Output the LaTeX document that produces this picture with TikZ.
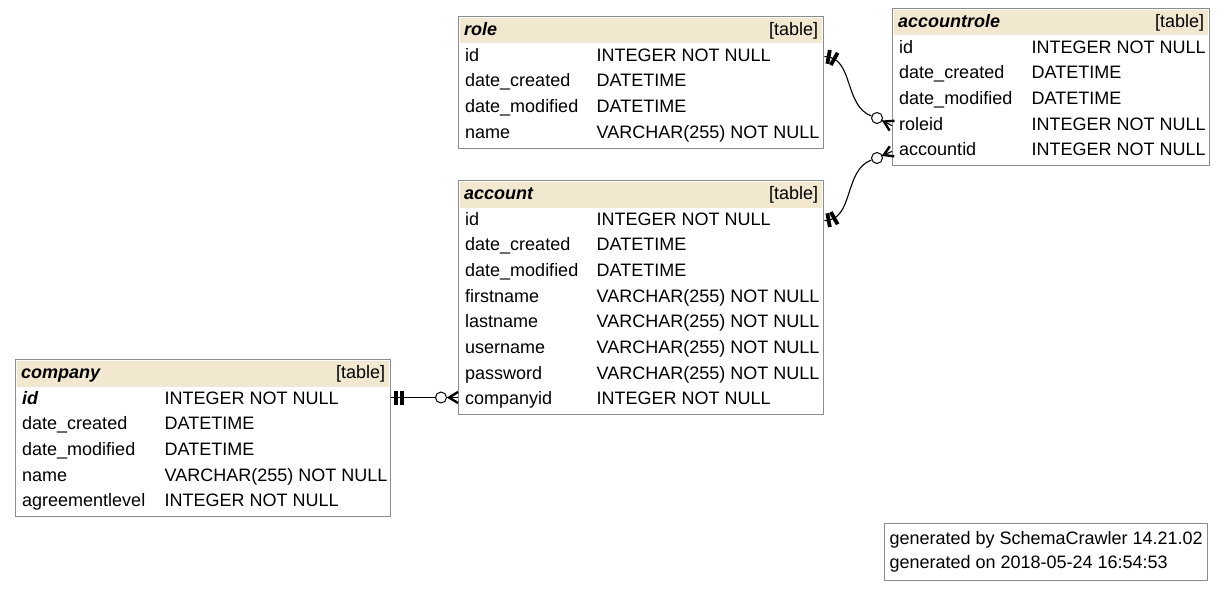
\documentclass[tikz,border=0pt]{standalone}
\usepackage{fontspec}
\setmainfont{Liberation Sans}
\usetikzlibrary{arrows.meta,positioning,fit,decorations.markings}
\definecolor{scHead}{HTML}{F2E8CF}
\definecolor{scFrame}{HTML}{8C8C8C}
\tikzset{
  tablehead/.style={
    fill=scHead,
    anchor=north west,
    align=left,
    inner xsep=4pt,
    inner ysep=0pt,
    text height=13pt,
    text depth=4pt,
    minimum height=25.3pt,
    font=\fontsize{18}{22}\selectfont
  },
  fname/.style={
    anchor=north west,
    align=left,
    text width=#1,
    inner xsep=5pt,
    inner ysep=0pt,
    text height=13pt,
    text depth=4pt,
    minimum height=25.3pt,
    font=\fontsize{18}{22}\selectfont
  },
  ftype/.style={
    inner xsep=5pt,
    inner ysep=0pt,
    text height=13pt,
    text depth=4pt,
    minimum height=25.3pt,
    font=\fontsize{18}{22}\selectfont
  },
  tableframe/.style={draw=scFrame, line width=1pt, inner sep=1.5pt},
  ring/.style={circle, draw, fill=white, minimum size=11pt, inner sep=0pt, line width=1pt},
  relation/.style={line width=1.1pt, postaction={decorate, decoration={markings,
    mark=at position 4.2pt with {\draw[line width=3.8pt] (0,-7pt) -- (0,7pt);},
    mark=at position 10.2pt with {\draw[line width=3.8pt] (0,-7pt) -- (0,7pt);}}}},
  crow/.style={line width=1.1pt, postaction={decorate, decoration={markings,
    mark=at position 1 with {\draw[line width=2.4pt, line join=miter] (0,5.5pt) -- (-9pt,0) -- (0,-5.5pt);}}}}
}
\begin{document}
\begin{tikzpicture}[x=1pt, y=1pt, node distance=0pt]
  \useasboundingbox (0,0) rectangle (1225,-591);

  % role
  \node[tablehead, text width=354pt, minimum width=362pt] (roleHead) at (460,-18) {\textbf{\textit{role}}\hfill[table]};
  \node[fname=121pt] (roleId) at (roleHead.south west) {id};
  \node[fname=121pt, below=of roleId] (roleCreated) {date\_created};
  \node[fname=121pt, below=of roleCreated] (roleModified) {date\_modified};
  \node[fname=121pt, below=of roleModified] (roleName) {name};
  \node[ftype, right=of roleId] (roleIdType) {INTEGER NOT NULL};
  \node[ftype, right=of roleCreated] (roleCreatedType) {DATETIME};
  \node[ftype, right=of roleModified] (roleModifiedType) {DATETIME};
  \node[ftype, right=of roleName] (roleNameType) {VARCHAR(255) NOT NULL};
  \node[tableframe, fit=(roleHead)(roleName)] (roleTable) {};

  % accountrole
  \node[tablehead, text width=306pt, minimum width=314pt] (accountroleHead) at (894,-10) {\textbf{\textit{accountrole}}\hfill[table]};
  \node[fname=122pt] (accountroleId) at (accountroleHead.south west) {id};
  \node[fname=122pt, below=of accountroleId] (accountroleCreated) {date\_created};
  \node[fname=122pt, below=of accountroleCreated] (accountroleModified) {date\_modified};
  \node[fname=122pt, below=of accountroleModified] (accountroleRoleid) {roleid};
  \node[fname=122pt, below=of accountroleRoleid] (accountroleAccountid) {accountid};
  \node[ftype, right=of accountroleId] (accountroleIdType) {INTEGER NOT NULL};
  \node[ftype, right=of accountroleCreated] (accountroleCreatedType) {DATETIME};
  \node[ftype, right=of accountroleModified] (accountroleModifiedType) {DATETIME};
  \node[ftype, right=of accountroleRoleid] (accountroleRoleidType) {INTEGER NOT NULL};
  \node[ftype, right=of accountroleAccountid] (accountroleAccountidType) {INTEGER NOT NULL};
  \node[tableframe, fit=(accountroleHead)(accountroleAccountid)] (accountroleTable) {};

  % account
  \node[tablehead, text width=354pt, minimum width=362pt] (accountHead) at (460,-182) {\textbf{\textit{account}}\hfill[table]};
  \node[fname=121pt] (accountId) at (accountHead.south west) {id};
  \node[fname=121pt, below=of accountId] (accountCreated) {date\_created};
  \node[fname=121pt, below=of accountCreated] (accountModified) {date\_modified};
  \node[fname=121pt, below=of accountModified] (accountFirstname) {firstname};
  \node[fname=121pt, below=of accountFirstname] (accountLastname) {lastname};
  \node[fname=121pt, below=of accountLastname] (accountUsername) {username};
  \node[fname=121pt, below=of accountUsername] (accountPassword) {password};
  \node[fname=121pt, below=of accountPassword] (accountCompanyid) {companyid};
  \node[ftype, right=of accountId] (accountIdType) {INTEGER NOT NULL};
  \node[ftype, right=of accountCreated] (accountCreatedType) {DATETIME};
  \node[ftype, right=of accountModified] (accountModifiedType) {DATETIME};
  \node[ftype, right=of accountFirstname] (accountFirstnameType) {VARCHAR(255) NOT NULL};
  \node[ftype, right=of accountLastname] (accountLastnameType) {VARCHAR(255) NOT NULL};
  \node[ftype, right=of accountUsername] (accountUsernameType) {VARCHAR(255) NOT NULL};
  \node[ftype, right=of accountPassword] (accountPasswordType) {VARCHAR(255) NOT NULL};
  \node[ftype, right=of accountCompanyid] (accountCompanyidType) {INTEGER NOT NULL};
  \node[tableframe, fit=(accountHead)(accountCompanyid)] (accountTable) {};

  % company
  \node[tablehead, text width=364pt, minimum width=372pt] (companyHead) at (17,-361) {\textbf{\textit{company}}\hfill[table]};
  \node[fname=132pt] (companyId) at (companyHead.south west) {\textbf{\textit{id}}};
  \node[fname=132pt, below=of companyId] (companyCreated) {date\_created};
  \node[fname=132pt, below=of companyCreated] (companyModified) {date\_modified};
  \node[fname=132pt, below=of companyModified] (companyName) {name};
  \node[fname=132pt, below=of companyName] (companyLevel) {agreementlevel};
  \node[ftype, right=of companyId] (companyIdType) {INTEGER NOT NULL};
  \node[ftype, right=of companyCreated] (companyCreatedType) {DATETIME};
  \node[ftype, right=of companyModified] (companyModifiedType) {DATETIME};
  \node[ftype, right=of companyName] (companyNameType) {VARCHAR(255) NOT NULL};
  \node[ftype, right=of companyLevel] (companyLevelType) {INTEGER NOT NULL};
  \node[tableframe, fit=(companyHead)(companyLevel)] (companyTable) {};

  \node[draw=scFrame, line width=1pt, anchor=north west, align=left, inner xsep=5pt, inner ysep=8pt,
        font=\fontsize{18}{24}\selectfont] (legend) at (884,-523)
       {generated by SchemaCrawler 14.21.02\\generated on 2018-05-24 16:54:53};

  % relationships
  \node[ring] (roleRing) at (877,-118) {};
  \node[ring] (accountRing) at (877,-158) {};
  \node[ring] (companyRing) at (441,-397.5) {};
  \draw[relation] (roleTable.east |- roleId) to[out=0, in=160] (roleRing);
  \draw[crow] (roleRing) -- (accountroleTable.west |- accountroleRoleid);
  \draw[relation] (accountTable.east |- accountId) to[out=0, in=200] (accountRing);
  \draw[crow] (accountRing) -- (accountroleTable.west |- accountroleAccountid);
  \draw[relation] (companyTable.east |- companyRing) -- (companyRing);
  \draw[crow] (companyRing) -- (accountTable.west |- companyRing);
\end{tikzpicture}
\end{document}
